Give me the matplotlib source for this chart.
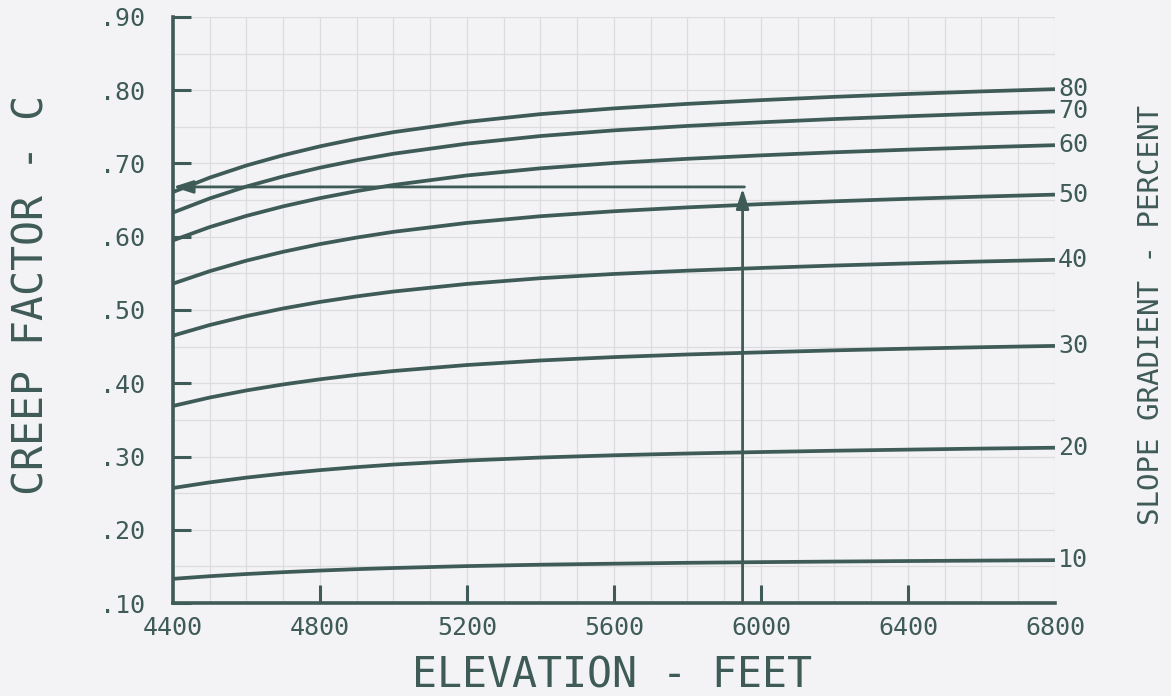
import numpy as np
from matplotlib import pyplot as plt

# elevation (feet) where the curves were read
elevation = [4400, 4500, 4600, 4700, 4800, 4900, 5000, 5200, 5400, 5600,
             5800, 6000, 6200, 6400, 6600, 6800]

# creep factor C for each slope gradient (percent)
slope_10 = [0.1330, 0.1366, 0.1396, 0.1421, 0.1443, 0.1462, 0.1478, 0.1504,
            0.1523, 0.1537, 0.1549, 0.1558, 0.1566, 0.1573, 0.1579, 0.1585]
slope_20 = [0.2570, 0.2647, 0.2712, 0.2767, 0.2814, 0.2855, 0.2890, 0.2945,
            0.2986, 0.3017, 0.3041, 0.3061, 0.3079, 0.3094, 0.3108, 0.3120]
slope_30 = [0.3690, 0.3805, 0.3902, 0.3984, 0.4054, 0.4115, 0.4167, 0.4249,
            0.4311, 0.4357, 0.4393, 0.4422, 0.4449, 0.4472, 0.4492, 0.4510]
slope_40 = [0.4650, 0.4795, 0.4917, 0.5021, 0.5110, 0.5186, 0.5252, 0.5356,
            0.5434, 0.5492, 0.5537, 0.5574, 0.5607, 0.5636, 0.5662, 0.5685]
slope_50 = [0.5360, 0.5530, 0.5674, 0.5795, 0.5900, 0.5989, 0.6067, 0.6189,
            0.6280, 0.6348, 0.6401, 0.6445, 0.6484, 0.6518, 0.6548, 0.6575]
slope_60 = [0.5950, 0.6132, 0.6285, 0.6415, 0.6527, 0.6623, 0.6707, 0.6837,
            0.6934, 0.7007, 0.7064, 0.7111, 0.7153, 0.7189, 0.7221, 0.7250]
slope_70 = [0.6330, 0.6523, 0.6686, 0.6824, 0.6943, 0.7045, 0.7133, 0.7271,
            0.7375, 0.7452, 0.7513, 0.7562, 0.7607, 0.7645, 0.7680, 0.7710]
slope_80 = [0.6610, 0.6807, 0.6973, 0.7113, 0.7234, 0.7338, 0.7428, 0.7568,
            0.7674, 0.7752, 0.7814, 0.7865, 0.7910, 0.7949, 0.7984, 0.8015]

slopes = [10, 20, 30, 40, 50, 60, 70, 80]
curves = [slope_10, slope_20, slope_30, slope_40, slope_50, slope_60, slope_70, slope_80]

# worked example shown with arrows
example_elev = 5950
example_c = 0.668

x_ticks = [4400, 4800, 5200, 5600, 6000, 6400, 6800]
y_ticks = [0.10, 0.20, 0.30, 0.40, 0.50, 0.60, 0.70, 0.80, 0.90]
y_labels = [".10", ".20", ".30", ".40", ".50", ".60", ".70", ".80", ".90"]

ink = '#3f5b57'
paper = '#f3f3f5'
mono = 'DejaVu Sans Mono'

fig = plt.figure(figsize=(11.71, 6.96), dpi=100, facecolor=paper)
ax = fig.add_axes([0.1477, 0.1336, 0.7532, 0.842])
ax.set_facecolor(paper)

# graph paper grid
for gx in np.arange(4400, 6801, 100):
    ax.axvline(gx, color='#dcdcdf', lw=0.9, zorder=0)
for gy in np.arange(0.10, 0.901, 0.05):
    ax.axhline(gy, color='#dcdcdf', lw=0.9, zorder=0)

for s, c in zip(slopes, curves):
    ax.plot(elevation, c, color=ink, lw=2.7, solid_capstyle='butt',
            solid_joinstyle='round', zorder=3)
    ax.text(elevation[-1] + 8, c[-1], str(s), fontsize=18, family=mono,
            color=ink, ha='left', va='center')

# arrows for the example reading
head = '-|>,head_width=0.32,head_length=1.0'
ax.annotate('', xy=(example_elev, example_c - 0.002), xytext=(example_elev, 0.10),
            arrowprops=dict(arrowstyle=head, color=ink, lw=2, mutation_scale=12,
                            shrinkA=0, shrinkB=0), zorder=4)
ax.annotate('', xy=(4400, example_c), xytext=(example_elev + 5, example_c),
            arrowprops=dict(arrowstyle=head, color=ink, lw=2, mutation_scale=12,
                            shrinkA=0, shrinkB=0), zorder=4)

ax.set_xlim(4400, 6800)
ax.set_ylim(0.10, 0.90)
ax.set_xticks(x_ticks)
ax.set_xticklabels([str(v) for v in x_ticks], family=mono, fontsize=18, color=ink)
ax.set_yticks(y_ticks)
ax.set_yticklabels(y_labels, family=mono, fontsize=18, color=ink)
ax.tick_params(axis='both', direction='in', length=13, width=2.2, color=ink)
ax.tick_params(axis='y', pad=20)
ax.tick_params(axis='x', pad=9)
xt = ax.xaxis.get_major_ticks()
xt[0].tick1line.set_visible(False)
xt[-1].tick1line.set_visible(False)

for side in ['top', 'right']:
    ax.spines[side].set_visible(False)
for side in ['left', 'bottom']:
    ax.spines[side].set_color(ink)
    ax.spines[side].set_linewidth(2.6)

fig.text(0.027, 0.576, 'CREEP FACTOR - C', rotation=90, ha='center', va='center',
         family=mono, fontsize=30, color=ink)
fig.text(0.523, 0.03, 'ELEVATION - FEET', ha='center', va='center',
         family=mono, fontsize=30, color=ink)
fig.text(0.983, 0.547, 'SLOPE GRADIENT - PERCENT', rotation=90, ha='center', va='center',
         family=mono, fontsize=21, color=ink)

fig.savefig('out.png', dpi=100, facecolor=paper)
